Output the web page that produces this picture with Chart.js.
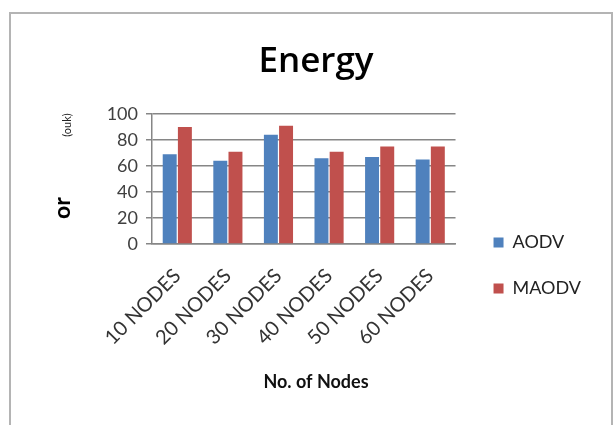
<!DOCTYPE html>
<html>
<head>
<meta charset="utf-8">
<script src="https://cdn.jsdelivr.net/npm/chart.js@4"></script>
<style>
    body { margin: 0; overflow: hidden; background: #ffffff; }
    #frame {
        position: absolute;
        left: 9px;
        top: 12px;
        width: 600px;
        height: 420px;
        border: 2px solid #b4b4b4;
    }
</style>
</head>
<body>
<div id="frame"><canvas id="energyChart"></canvas></div>
<script>
var energyChart = {};

// values
const categories = ["10 NODES", "20 NODES", "30 NODES", "40 NODES", "50 NODES", "60 NODES"];
const aodv = [69, 64, 84, 66, 67, 65];
const maodv = [90, 71, 91, 71, 75, 75];
const yTicks = [0, 20, 40, 60, 80, 100];

const titleText = "Energy";
const xTitleText = "No. of Nodes";
const yTitleText = "or";
const yUnitText = "(ouk)";

const FONT = "Lato, 'Open Sans', sans-serif";

energyChart.DATA = {
    labels: categories,
    datasets: [
        {
            label: "AODV",
            data: aodv,
            backgroundColor: "#4f81bd",
            categoryPercentage: 0.6,
            barPercentage: 0.92,
        },
        {
            label: "MAODV",
            data: maodv,
            backgroundColor: "#c0504d",
            categoryPercentage: 0.6,
            barPercentage: 0.92,
        },
    ],
};

// the axis titles sit off-centre in the original, so they are drawn by hand
energyChart.axisTitlesPlugin = {
    id: "axisTitles",
    afterDraw: function(chart) {
        const ctx = chart.ctx;
        ctx.save();
        ctx.fillStyle = "#000000";
        ctx.textAlign = "center";
        ctx.textBaseline = "middle";
        ctx.translate(52, 194);
        ctx.rotate(-Math.PI / 2);
        ctx.font = "bold 23px " + FONT;
        ctx.fillText(yTitleText, 0, 0);
        ctx.restore();

        ctx.save();
        ctx.fillStyle = "#222222";
        ctx.textAlign = "center";
        ctx.textBaseline = "middle";
        ctx.translate(56, 111);
        ctx.rotate(-Math.PI / 2);
        ctx.font = "11px " + FONT;
        ctx.fillText(yUnitText, 0, 0);
        ctx.restore();

        ctx.save();
        ctx.fillStyle = "#111111";
        ctx.textAlign = "center";
        ctx.textBaseline = "middle";
        ctx.font = "bold 18px " + FONT;
        ctx.fillText(xTitleText, 305, 368);
        ctx.restore();
    },
};

// nudge the legend and the title, like the original
energyChart.shiftPlugin = {
    id: "shift",
    afterLayout: function(chart) {
        const legend = chart.legend;
        legend.left += 10;
        legend.right += 10;
        legend.top += 62;
        legend.bottom += 62;
        const title = chart.titleBlock;
        title.left += 20;
        title.right += 20;
    },
};

energyChart.SCALES = {
    x: {
        afterFit: function(axis) {
            axis.height = 149;
        },
        grid: {
            display: false,
        },
        border: {
            color: "#868686",
            width: 1.5,
        },
        ticks: {
            maxRotation: 45,
            minRotation: 45,
            color: "#333333",
            font: { family: FONT, size: 20 },
            padding: 12,
        },
    },
    y: {
        min: 0,
        max: 100,
        afterBuildTicks: function(axis) {
            axis.ticks = yTicks.map(function(v) { return { value: v }; });
        },
        afterFit: function(axis) {
            axis.width = 141;
        },
        grid: {
            color: "#868686",
            lineWidth: 1.5,
            tickLength: 6,
        },
        border: {
            color: "#868686",
            width: 1.5,
        },
        ticks: {
            color: "#404040",
            font: { family: FONT, size: 18 },
            padding: 8,
        },
    },
};

energyChart.CONFIG = {
    type: "bar",
    data: energyChart.DATA,
    options: {
        responsive: true,
        maintainAspectRatio: false,
        animation: false,
        layout: {
            padding: { left: 0, right: 30, top: 0, bottom: 41 },
        },
        plugins: {
            title: {
                display: true,
                text: titleText,
                color: "#000000",
                font: { family: "'Open Sans', Lato, sans-serif", size: 35, weight: "600" },
                padding: { top: 27, bottom: 31 },
            },
            legend: {
                position: "right",
                align: "center",
                labels: {
                    boxWidth: 10,
                    boxHeight: 10,
                    padding: 28,
                    color: "#222222",
                    font: { family: FONT, size: 18 },
                },
            },
            tooltip: { enabled: false },
        },
        scales: energyChart.SCALES,
    },
    plugins: [energyChart.axisTitlesPlugin, energyChart.shiftPlugin],
};

energyChart.element = document.getElementById("energyChart");
energyChart.chart = new Chart(energyChart.element, energyChart.CONFIG);
</script>
</body>
</html>
